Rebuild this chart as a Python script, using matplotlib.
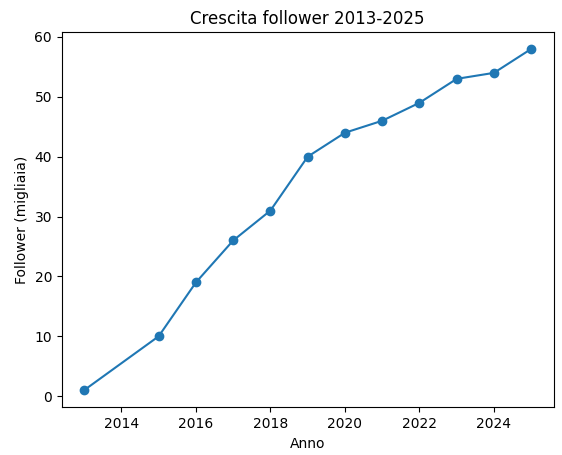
import matplotlib
matplotlib.use("Agg")
import matplotlib.pyplot as plt

anni = [2013, 2015, 2016, 2017, 2018, 2019, 2020, 2021, 2022, 2023, 2024, 2025]
follower = [1, 10, 19, 26, 31, 40, 44, 46, 49, 53, 54, 58]

fig, ax = plt.subplots(figsize=(5.62, 4.55), dpi=100)
ax.plot(anni, follower, marker='o')
ax.set_title('Crescita follower 2013-2025')
ax.set_xlabel('Anno')
ax.set_ylabel('Follower (migliaia)')
fig.subplots_adjust(left=0.11, right=0.985, top=0.93, bottom=0.105)
fig.savefig('out.png')
